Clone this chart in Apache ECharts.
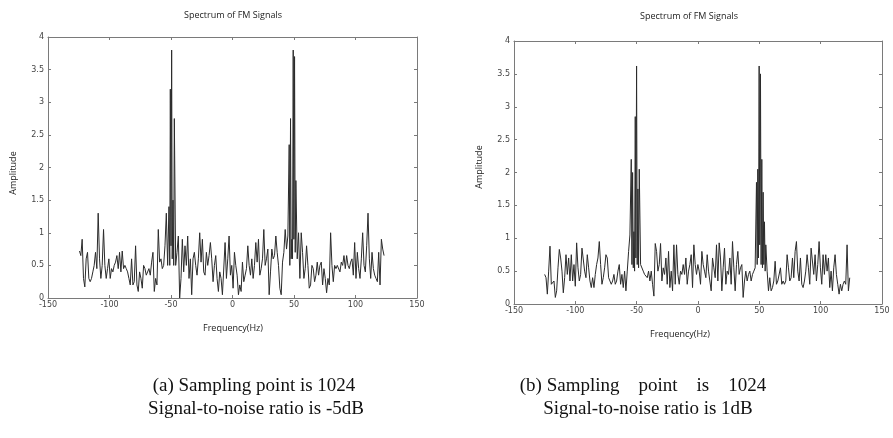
<!DOCTYPE html>
<html>
<head>
<meta charset="utf-8">
<title>Spectrum of FM Signals</title>
<script src="https://cdn.jsdelivr.net/npm/echarts@6/dist/echarts.min.js"></script>
<style>
  html, body { margin: 0; padding: 0; background: #fff; }
  #chart { width: 893px; height: 438px; }
</style>
</head>
<body>
<div id="chart"></div>
<script>
// frequency grid (Hz) for the sampled spectra
const freqStartA = -124.4;
const freqStartB = -125.0;
const freqStep = 1.086;

const xTicks = [-150, -100, -50, 0, 50, 100, 150];
const yTicks = [0, 0.5, 1, 1.5, 2, 2.5, 3, 3.5, 4];

// (a) SNR -5dB
const ampA = [
  0.72, 0.65, 0.9, 0.3, 0.17, 0.6, 0.7, 0.3, 0.25, 0.3,
  0.4, 0.5, 0.7, 0.45, 1.3, 0.6, 0.3, 0.5, 1.05, 0.5,
  0.3, 0.45, 0.6, 0.3, 0.45, 0.4, 0.5, 0.55, 0.65, 0.45,
  0.7, 0.4, 0.72, 0.45, 0.5, 0.45, 0.4, 0.3, 0.2, 0.6,
  0.2, 0.25, 0.8, 0.2, 0.1, 0.4, 0.3, 0.15, 0.5, 0.45,
  0.35, 0.35, 0.45, 0.35, 0.55, 0.7, 0.1, 0.3, 0.2, 1.05,
  0.55, 0.6, 0.45, 0.5, 0.8, 1.3, 0.5, 1.4, 3.2, 3.8,
  1.5, 2.75, 0.5, 0.7, 0.95, 0.0, 0.3, 0.9, 0.4, 0.8,
  0.5, 0.95, 0.3, 0.6, 0.05, 0.6, 0.7, 0.5, 0.35, 0.6,
  1.0, 0.55, 0.9, 0.4, 0.35, 0.7, 0.5, 0.65, 0.85, 0.6,
  0.25, 0.5, 0.65, 0.3, 0.1, 0.4, 0.3, 0.05, 0.05, 0.85,
  0.3, 0.6, 0.95, 0.35, 0.5, 0.15, 0.7, 0.5, 0.35, 0.05,
  0.2, 0.1, 0.55, 0.25, 0.35, 0.45, 0.8, 0.5, 0.35, 0.6,
  0.3, 0.5, 0.85, 0.55, 0.9, 0.35, 0.45, 0.6, 1.05, 0.5,
  0.6, 0.75, 0.05, 0.4, 0.75, 0.6, 0.65, 0.95, 0.7, 0.5,
  0.15, 0.05, 0.55, 0.7, 1.05, 0.75, 0.95, 2.35, 2.75, 0.9,
  3.8, 3.7, 1.8, 0.6, 1.0, 0.3, 1.0, 0.7, 0.3, 0.45,
  0.8, 0.5, 0.15, 0.2, 0.5, 0.45, 0.25, 0.35, 0.55, 0.35,
  0.5, 0.55, 0.2, 0.45, 0.3, 0.08, 0.3, 0.2, 1.0, 0.5,
  0.25, 0.5, 0.45, 0.5, 0.5, 0.4, 0.55, 0.5, 0.65, 0.45,
  0.65, 0.5, 0.45, 0.55, 0.6, 0.35, 0.85, 0.3, 0.7, 0.45,
  0.3, 0.6, 1.0, 0.5, 0.4, 0.8, 1.3, 0.6, 0.3, 0.7,
  0.45, 0.35, 0.3, 0.25, 0.7, 0.2, 0.9, 0.75, 0.65
];
// finer samples between the spikes of (a)
const peakFreqA = [-51.0, -50.0, -49.0, -47.8, 46.6, 47.7, 48.8, 49.9, 51.0];
const peakAmpA = [0.5, 0.8, 0.6, 0.5, 0.5, 0.6, 0.6, 0.9, 0.7];

// (b) SNR 1dB
const ampB = [
  0.45, 0.4, 0.15, 0.5, 0.88, 0.3, 0.3, 0.35, 0.1, 0.2,
  0.55, 0.83, 0.7, 0.5, 0.17, 0.4, 0.75, 0.45, 0.7, 0.35,
  0.75, 0.35, 0.6, 0.27, 0.93, 0.55, 0.35, 0.45, 0.85, 0.85,
  0.5, 0.4, 0.75, 0.55, 0.35, 0.25, 0.4, 0.25, 0.45, 0.6,
  0.7, 0.95, 0.6, 0.3, 0.4, 0.55, 0.75, 0.7, 0.4, 0.35,
  0.3, 0.35, 0.45, 0.3, 0.35, 0.5, 0.6, 0.3, 0.45, 0.25,
  0.5, 0.2, 0.5, 0.8, 1.05, 2.2, 2.0, 1.1, 2.85, 3.62,
  1.75, 2.05, 0.6, 0.6, 0.5, 0.45, 0.45, 0.4, 0.5, 0.35,
  0.5, 0.3, 0.12, 0.92, 0.8, 0.5, 0.6, 0.92, 0.35, 0.55,
  0.45, 0.7, 0.3, 0.8, 0.25, 0.5, 0.2, 0.9, 0.3, 0.9,
  0.45, 0.3, 0.5, 0.45, 0.6, 0.45, 0.7, 0.3, 0.5, 0.6,
  0.75, 0.25, 0.9, 0.6, 0.45, 0.6, 0.5, 0.3, 0.8, 0.6,
  0.5, 0.4, 0.75, 0.5, 0.35, 0.2, 0.7, 0.55, 0.4, 0.9,
  0.35, 0.93, 0.7, 0.2, 0.55, 0.85, 0.3, 0.5, 0.45, 0.7,
  0.3, 0.95, 0.55, 0.2, 0.6, 0.8, 0.45, 0.55, 0.6, 0.1,
  0.35, 0.5, 0.35, 0.45, 0.5, 0.35, 0.45, 0.5, 0.55, 1.85,
  2.05, 3.62, 3.5, 2.2, 1.7, 1.25, 0.9, 0.5, 0.2, 0.4,
  0.2, 0.25, 0.35, 0.65, 0.3, 0.35, 0.35, 0.55, 0.3, 0.35,
  0.3, 0.35, 0.75, 0.55, 0.35, 0.4, 0.7, 0.4, 0.8, 0.95,
  0.5, 0.35, 0.7, 0.3, 0.25, 0.35, 0.5, 0.75, 0.55, 0.3,
  0.85, 0.85, 0.45, 0.75, 0.35, 0.6, 0.95, 0.55, 0.3, 0.75,
  0.45, 0.75, 0.5, 0.7, 0.25, 0.5, 0.2, 0.55, 0.75, 0.45,
  0.3, 0.15, 0.3, 0.2, 0.3, 0.35, 0.3, 0.9, 0.2, 0.4
];
// finer samples between the spikes of (b)
const peakFreqB = [-53.85, -52.75, -51.7, -50.65, -49.55, -48.45, 48.25, 49.3, 50.35, 51.45, 52.55, 53.65, 54.75];
const peakAmpB = [0.6, 0.55, 0.5, 0.7, 0.6, 0.55, 0.6, 0.7, 0.9, 0.6, 0.55, 0.6, 0.5];

function spectrum(start, amps, extraF, extraA) {
  const pts = amps.map((a, i) => [+(start + i * freqStep).toFixed(2), a]);
  extraF.forEach((f, i) => pts.push([f, extraA[i]]));
  return pts.sort((p, q) => p[0] - q[0]);
}

const chart = echarts.init(document.getElementById('chart'));

const axisGray = '#7a7a7a';
const labelFont = { fontSize: 8, color: '#444', fontFamily: 'DejaVu Sans' };
const lineSide = { show: true, onZero: false, lineStyle: { color: axisGray } };
const tickIn = { show: true, inside: true, length: 3, lineStyle: { color: axisGray } };

function xAxes(gridIndex) {
  return [
    {
      gridIndex, type: 'value', min: -150, max: 150, interval: 50, position: 'bottom',
      axisLine: lineSide, axisTick: tickIn,
      axisLabel: Object.assign({ margin: 3, formatter: v => xTicks.includes(v) ? String(v) : '' }, labelFont),
      splitLine: { show: false }
    },
    {
      gridIndex, type: 'value', min: -150, max: 150, interval: 50, position: 'top',
      axisLine: lineSide, axisTick: tickIn,
      axisLabel: { show: false },
      splitLine: { show: false }
    }
  ];
}

function yAxes(gridIndex) {
  return [
    {
      gridIndex, type: 'value', min: 0, max: 4, interval: 0.5, position: 'left',
      axisLine: lineSide, axisTick: tickIn,
      axisLabel: Object.assign({ margin: 4, formatter: v => yTicks.includes(v) ? String(v) : '' }, labelFont),
      splitLine: { show: false }
    },
    {
      gridIndex, type: 'value', min: 0, max: 4, interval: 0.5, position: 'right',
      axisLine: lineSide, axisTick: tickIn,
      axisLabel: { show: false },
      splitLine: { show: false }
    }
  ];
}

const smallText = { fontSize: 9, fill: '#222', fontFamily: 'Open Sans' };
const captionText = { fontSize: 19, fill: '#111', fontFamily: 'Liberation Serif' };

const option = {
  backgroundColor: '#fff',
  animation: false,
  grid: [
    { left: 48, top: 37, width: 369, height: 261 },
    { left: 514, top: 41, width: 368, height: 263 }
  ],
  xAxis: [...xAxes(0), ...xAxes(1)],
  yAxis: [...yAxes(0), ...yAxes(1)],
  series: [
    {
      type: 'line', xAxisIndex: 0, yAxisIndex: 0, showSymbol: false,
      lineStyle: { color: '#2b2b2b', width: 1 },
      data: spectrum(freqStartA, ampA, peakFreqA, peakAmpA)
    },
    {
      type: 'line', xAxisIndex: 2, yAxisIndex: 2, showSymbol: false,
      lineStyle: { color: '#2b2b2b', width: 1 },
      data: spectrum(freqStartB, ampB, peakFreqB, peakAmpB)
    }
  ],
  graphic: [
    { type: 'text', x: 233, y: 15, style: Object.assign({ text: 'Spectrum of FM Signals', align: 'center', verticalAlign: 'middle' }, smallText) },
    { type: 'text', x: 689, y: 16, style: Object.assign({ text: 'Spectrum of FM Signals', align: 'center', verticalAlign: 'middle' }, smallText) },
    { type: 'text', x: 13, y: 173, rotation: Math.PI / 2, style: Object.assign({ text: 'Amplitude', align: 'center', verticalAlign: 'middle' }, smallText) },
    { type: 'text', x: 479, y: 167, rotation: Math.PI / 2, style: Object.assign({ text: 'Amplitude', align: 'center', verticalAlign: 'middle' }, smallText) },
    { type: 'text', x: 233, y: 328, style: Object.assign({ text: 'Frequency(Hz)', align: 'center', verticalAlign: 'middle' }, smallText) },
    { type: 'text', x: 680, y: 334, style: Object.assign({ text: 'Frequency(Hz)', align: 'center', verticalAlign: 'middle' }, smallText) },
    { type: 'text', x: 254, y: 386, style: Object.assign({ text: '(a) Sampling point is 1024', align: 'center', verticalAlign: 'middle' }, captionText) },
    { type: 'text', x: 256, y: 409, style: Object.assign({ text: 'Signal-to-noise ratio is -5dB', align: 'center', verticalAlign: 'middle' }, captionText) },
    { type: 'text', x: 643, y: 386, style: Object.assign({ text: '(b) Sampling    point    is    1024', align: 'center', verticalAlign: 'middle' }, captionText) },
    { type: 'text', x: 648, y: 409, style: Object.assign({ text: 'Signal-to-noise ratio is 1dB', align: 'center', verticalAlign: 'middle' }, captionText) }
  ]
};

chart.setOption(option);
</script>
</body>
</html>
